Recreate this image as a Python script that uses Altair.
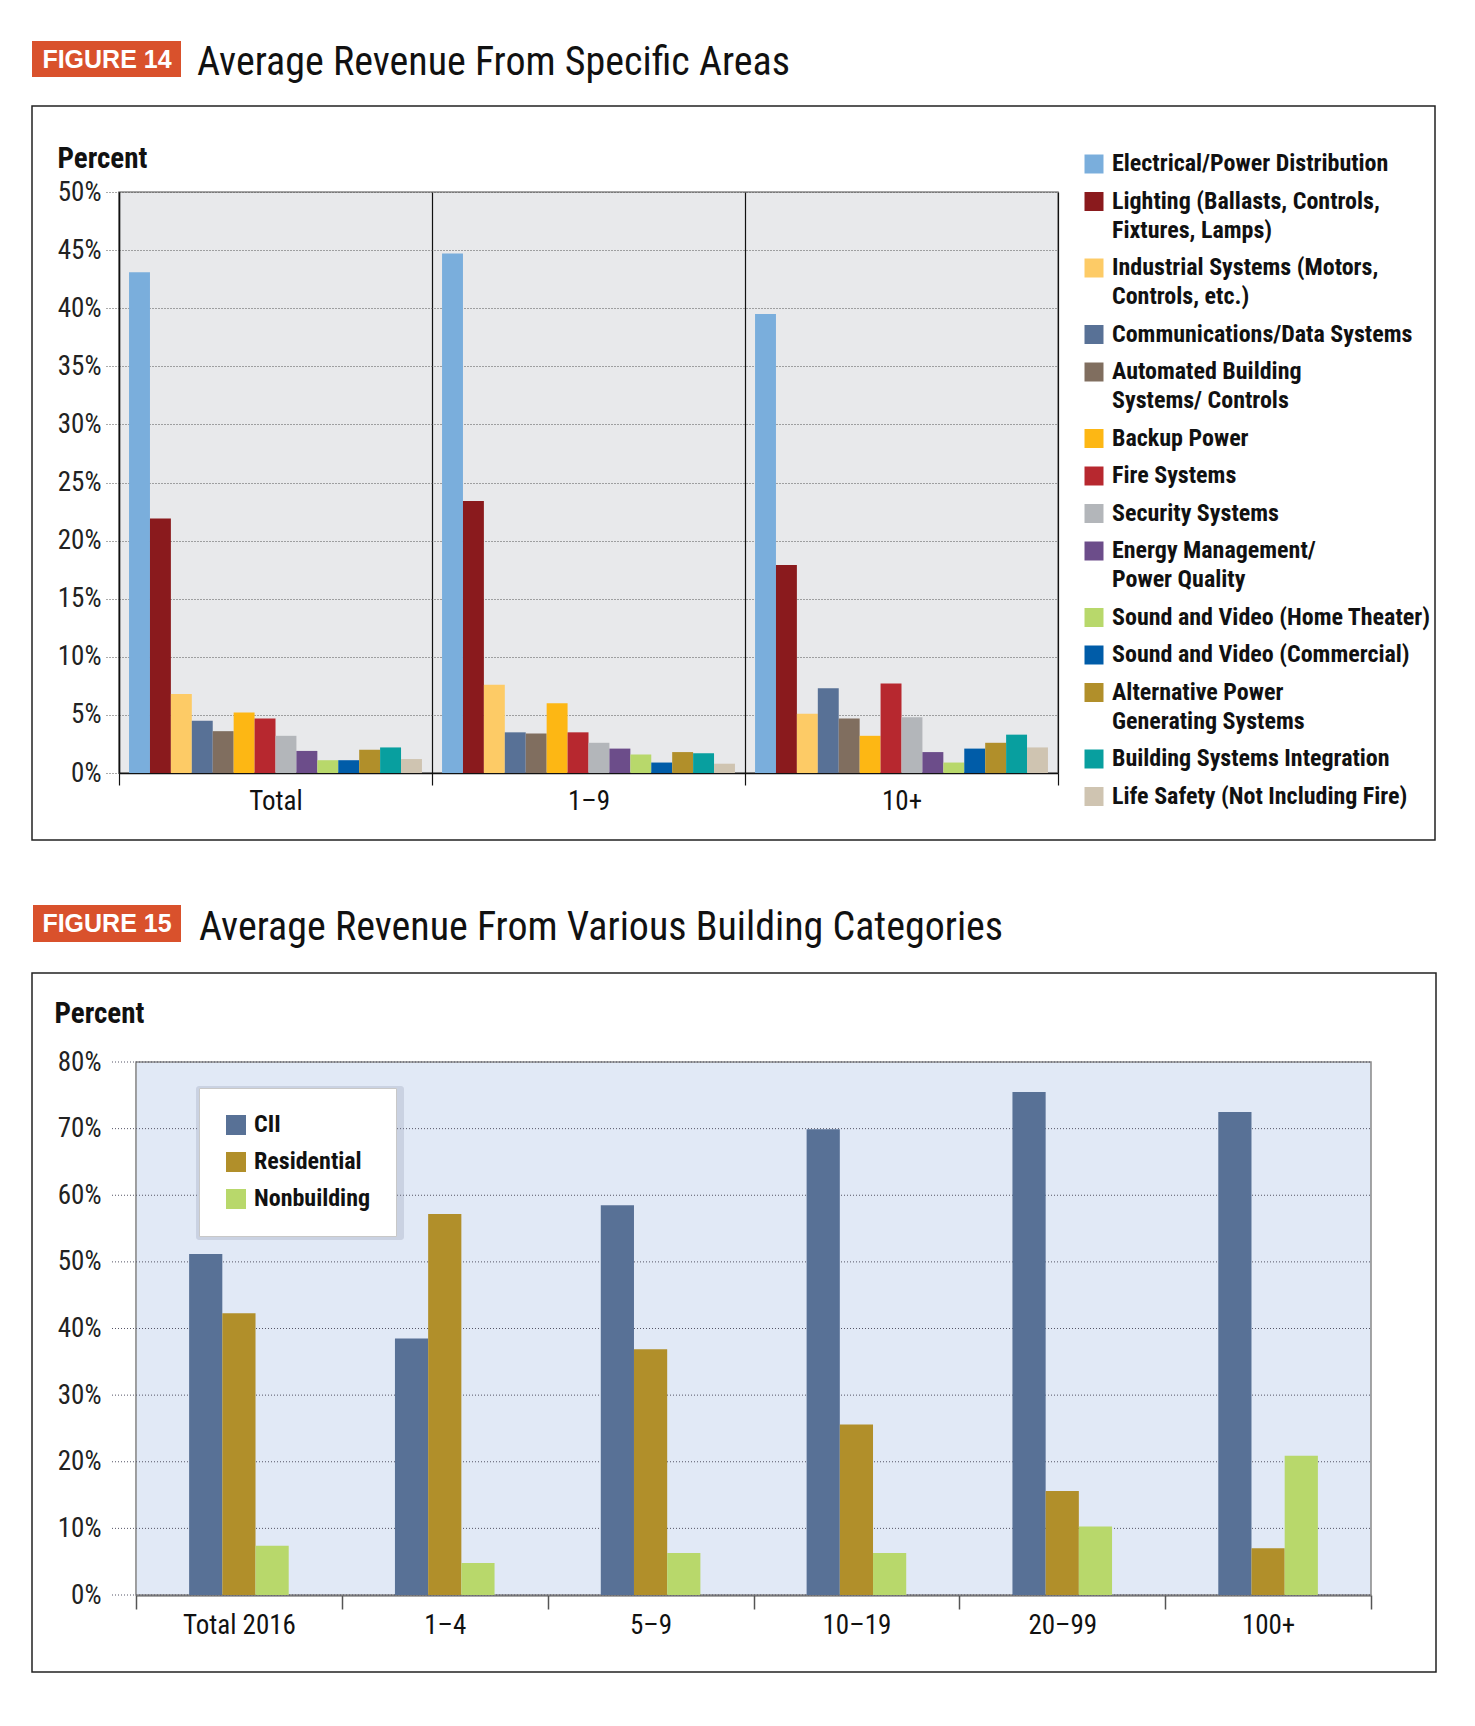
import altair as alt
import pandas as pd

NARROW = "'Liberation Sans Narrow', 'Roboto Condensed', 'Arial Narrow', 'DejaVu Sans Condensed', 'Liberation Sans', sans-serif"
BOLDF = "'Liberation Sans', 'Roboto', sans-serif"

# ---------------- Figure 14 data ----------------
fig14_badge = ["FIGURE 14"]
fig14_title = ["Average Revenue From Specific Areas"]
groups14 = ["Total", "1–9", "10+"]
areas = [
    "Electrical/Power Distribution",
    "Lighting (Ballasts, Controls,|Fixtures, Lamps)",
    "Industrial Systems (Motors,|Controls, etc.)",
    "Communications/Data Systems",
    "Automated Building|Systems/ Controls",
    "Backup Power",
    "Fire Systems",
    "Security Systems",
    "Energy Management/|Power Quality",
    "Sound and Video (Home Theater)",
    "Sound and Video (Commercial)",
    "Alternative Power|Generating Systems",
    "Building Systems Integration",
    "Life Safety (Not Including Fire)",
]
colors14 = ["#7aaedc", "#8a1a1d", "#fdcb66", "#587196", "#806e5f", "#fdb714",
            "#b7282f", "#b3b6ba", "#6c4d8a", "#b8d86b", "#005ca8", "#b18f2a",
            "#089f9f", "#cfc4b1"]
values_total = [43.1, 21.9, 6.8, 4.5, 3.6, 5.2, 4.7, 3.2, 1.9, 1.1, 1.1, 2.0, 2.2, 1.2]
values_1_9 = [44.7, 23.4, 7.6, 3.5, 3.4, 6.0, 3.5, 2.6, 2.1, 1.6, 0.9, 1.8, 1.7, 0.8]
values_10p = [39.5, 17.9, 5.1, 7.3, 4.7, 3.2, 7.7, 4.8, 1.8, 0.9, 2.1, 2.6, 3.3, 2.2]

# ---------------- Figure 15 data ----------------
fig15_badge = ["FIGURE 15"]
fig15_title = ["Average Revenue From Various Building Categories"]
groups15 = ["Total 2016", "1–4", "5–9", "10–19", "20–99", "100+"]
series15 = ["CII", "Residential", "Nonbuilding"]
colors15 = ["#587196", "#b18f2a", "#b8d86b"]
cii = [51.2, 38.5, 58.5, 69.9, 75.5, 72.5]
residential = [42.3, 57.2, 36.9, 25.6, 15.6, 7.0]
nonbuilding = [7.4, 4.8, 6.3, 6.3, 10.3, 20.9]
ticks15 = [0, 10, 20, 30, 40, 50, 60, 70, 80]

rows14 = []
for g, vals in zip(groups14, [values_total, values_1_9, values_10p]):
    for a, v in zip(areas, vals):
        rows14.append({"group": g, "area": a, "value": v})
df14 = pd.DataFrame(rows14)

rows15 = []
for s, vals in zip(series15, [cii, residential, nonbuilding]):
    for g, v in zip(groups15, vals):
        rows15.append({"group": g, "series": s, "value": v})
df15 = pd.DataFrame(rows15)

W1, H1 = 939, 581
SH = 17                      # fig 15 plot starts this much right of fig 14's
W2, H2 = 1235 + SH, 533

# ---------------- Figure 14 ----------------
bars14 = alt.Chart(df14).mark_bar().encode(
    x=alt.X("group:N", sort=groups14, scale=alt.Scale(paddingInner=0, paddingOuter=0),
            axis=alt.Axis(title=None, tickBand="extent", grid=True, gridColor="#111",
                          gridDash=[], gridWidth=1.2, tickColor="#111", tickSize=12,
                          tickWidth=1.2, domainColor="#111", domainWidth=1.5,
                          labelFont=NARROW, labelFontSize=27, labelColor="#111",
                          labelPadding=3, labelAngle=0)),
    xOffset=alt.XOffset("area:N", sort=areas, scale=alt.Scale(paddingInner=0, paddingOuter=0.48)),
    y=alt.Y("value:Q", scale=alt.Scale(domain=[0, 50], nice=False),
            axis=alt.Axis(values=list(range(0, 51, 5)), labelExpr="datum.value + '%'",
                          title="Percent", titleAngle=0, titleX=-62, titleY=-25,
                          titleAlign="left", titleBaseline="alphabetic", titleFont=NARROW,
                          titleFontWeight="bold", titleFontSize=29, titleColor="#111",
                          gridDash=[1, 2], gridColor="#555", gridWidth=1,
                          tickDash=[1, 2], tickColor="#555", tickSize=14,
                          domainColor="#111", domainWidth=1.5,
                          labelFont=NARROW, labelFontSize=27, labelColor="#222",
                          labelPadding=4)),
    color=alt.Color("area:N", sort=areas, scale=alt.Scale(domain=areas, range=colors14),
                    legend=alt.Legend(title=None, orient="none", legendX=963, legendY=-40,
                                      symbolType="square", symbolSize=361, symbolStrokeWidth=0,
                                      labelFont=NARROW, labelFontWeight="bold", labelFontSize=24,
                                      labelColor="#111", labelExpr="split(datum.label, '|')",
                                      rowPadding=13.5, labelOffset=6, labelLimit=420, padding=0)),
)

frame14 = alt.Chart(pd.DataFrame({"t": fig14_badge})).mark_rect(
    fillOpacity=0, stroke="#222", strokeWidth=1.5).encode(
    x=alt.value(-87), x2=alt.value(1316), y=alt.value(-86), y2=alt.value(648))
badge14 = alt.Chart(pd.DataFrame({"t": fig14_badge})).mark_rect(color="#d9512c").encode(
    x=alt.value(-87), x2=alt.value(62), y=alt.value(-151), y2=alt.value(-115))
badge14_t = alt.Chart(pd.DataFrame({"t": fig14_badge})).mark_text(
    color="white", font=BOLDF, fontWeight="bold", fontSize=25, align="center",
    baseline="middle").encode(text="t:N", x=alt.value(-12), y=alt.value(-132))
title14 = alt.Chart(pd.DataFrame({"t": fig14_title})).mark_text(
    color="#111", font=NARROW, fontSize=40, align="left", baseline="alphabetic").encode(
    text="t:N", x=alt.value(78), y=alt.value(-117))

fig14 = alt.layer(frame14, bars14, badge14, badge14_t, title14).properties(
    width=W1, height=H1,
    view=alt.ViewBackground(fill="#e8e9eb", stroke="#888", strokeWidth=1.5))

# ---------------- Figure 15 ----------------
offset_domain15 = ["pad_left"] + series15 + ["pad_right"]

bg15 = alt.Chart(pd.DataFrame({"t": fig15_badge})).mark_rect(
    fill="#e1e9f6", stroke="#888", strokeWidth=1.5).encode(
    x=alt.value(SH), x2=alt.value(W2), y=alt.value(0), y2=alt.value(H2))

grid15 = alt.Chart(pd.DataFrame({"value": ticks15})).mark_rule(
    color="#556", strokeDash=[1, 2], strokeWidth=1).encode(
    y=alt.Y("value:Q"), x=alt.value(SH - 24), x2=alt.value(W2))

bars15 = alt.Chart(df15).mark_bar().encode(
    x=alt.X("group:N", sort=groups15,
            scale=alt.Scale(paddingInner=0, paddingOuter=0, range=[SH, W2]),
            axis=alt.Axis(title=None, tickBand="extent", grid=False, tickColor="#555",
                          tickSize=14, tickWidth=1.5, domainColor="#555", domainWidth=2,
                          labelFont=NARROW, labelFontSize=27, labelColor="#111",
                          labelPadding=3, labelAngle=0)),
    xOffset=alt.XOffset("series:N", scale=alt.Scale(domain=offset_domain15, paddingInner=0, paddingOuter=0.6)),
    y=alt.Y("value:Q", scale=alt.Scale(domain=[0, 80], nice=False),
            axis=alt.Axis(values=ticks15, labelExpr="datum.value + '%'", offset=-SH, grid=False,
                          title="Percent", titleAngle=0, titleX=-82, titleY=-40,
                          titleAlign="left", titleBaseline="alphabetic", titleFont=NARROW,
                          titleFontWeight="bold", titleFontSize=29, titleColor="#111",
                          ticks=False, domainColor="#666", domainWidth=1.5,
                          labelFont=NARROW, labelFontSize=27, labelColor="#222",
                          labelPadding=35)),
    color=alt.Color("series:N", sort=series15, scale=alt.Scale(domain=series15, range=colors15),
                    legend=alt.Legend(title=None, orient="none", legendX=63 + SH, legendY=26,
                                      fillColor="white", strokeColor="#c8c8c8", padding=25,
                                      symbolType="square", symbolSize=400, symbolStrokeWidth=0,
                                      labelFont=NARROW, labelFontWeight="bold", labelFontSize=24,
                                      labelColor="#111", rowPadding=13, labelOffset=6)),
)

shadow15 = alt.Chart(pd.DataFrame({"t": fig15_badge})).mark_rect(
    color="#8791a6", opacity=0.25, cornerRadius=3).encode(
    x=alt.value(60 + SH), x2=alt.value(268 + SH), y=alt.value(24), y2=alt.value(178))
frame15 = alt.Chart(pd.DataFrame({"t": fig15_badge})).mark_rect(
    fillOpacity=0, stroke="#222", strokeWidth=1.5).encode(
    x=alt.value(-104 + SH), x2=alt.value(1300 + SH), y=alt.value(-89), y2=alt.value(610))
badge15 = alt.Chart(pd.DataFrame({"t": fig15_badge})).mark_rect(color="#d9512c").encode(
    x=alt.value(-103 + SH), x2=alt.value(45 + SH), y=alt.value(-157), y2=alt.value(-120))
badge15_t = alt.Chart(pd.DataFrame({"t": fig15_badge})).mark_text(
    color="white", font=BOLDF, fontWeight="bold", fontSize=25, align="center",
    baseline="middle").encode(text="t:N", x=alt.value(-29 + SH), y=alt.value(-138))
title15 = alt.Chart(pd.DataFrame({"t": fig15_title})).mark_text(
    color="#111", font=NARROW, fontSize=40, align="left", baseline="alphabetic").encode(
    text="t:N", x=alt.value(63 + SH), y=alt.value(-122))

fig15 = alt.layer(bg15, grid15, frame15, shadow15, bars15, badge15, badge15_t, title15).properties(
    width=W2, height=H2,
    view=alt.ViewBackground(fill="transparent", stroke="transparent"))

indep = dict(x="independent", y="independent", color="independent", xOffset="independent")

chart = alt.vconcat(fig14, fig15, spacing=62).resolve_scale(**indep).properties(
    padding={"left": 22, "top": 32, "right": 5, "bottom": 5},
    background="white",
).configure(font=NARROW, style={"guide-label": {"lineHeight": 29}})

chart.save("out.html", embed_options={"renderer": "svg", "actions": False})
